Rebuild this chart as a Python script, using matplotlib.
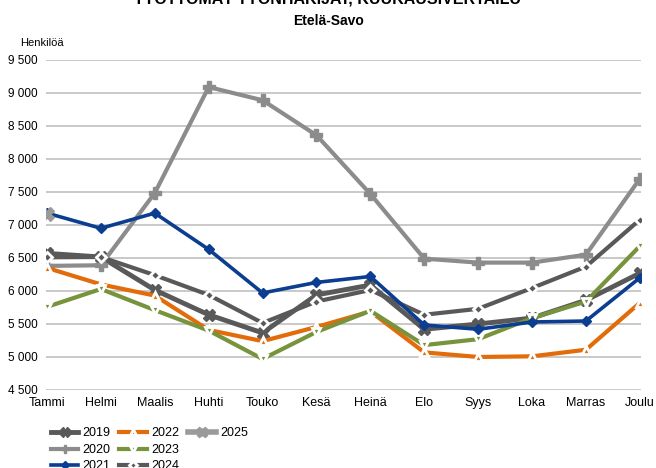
import matplotlib
matplotlib.use('Agg')
import matplotlib.pyplot as plt
from matplotlib.lines import Line2D
from matplotlib.ticker import FuncFormatter

plt.rcParams['font.family'] = ['Liberation Sans', 'DejaVu Sans']

###
# Data

months = ['Tammi', 'Helmi', 'Maalis', 'Huhti', 'Touko', 'Kesä', 'Heinä',
          'Elo', 'Syys', 'Loka', 'Marras', 'Joulu']

v2019 = [6570, 6515, 6015, 5640, 5365, 5940, 6090, 5420, 5500, 5590, 5860, 6270]
v2020 = [6380, 6390, 7485, 9090, 8890, 8360, 7470, 6490, 6430, 6430, 6550, 7700]
v2021 = [7180, 6950, 7180, 6630, 5970, 6130, 6220, 5485, 5420, 5530, 5545, 6200]
v2022 = [6350, 6100, 5930, 5410, 5240, 5455, 5690, 5070, 5000, 5010, 5110, 5820]
v2023 = [5760, 6030, 5710, 5400, 4970, 5380, 5700, 5180, 5270, 5590, 5840, 6680]
v2024 = [6510, 6515, 6240, 5940, 5515, 5840, 6015, 5640, 5730, 6045, 6370, 7080]
v2025 = [7170]

###
# Plot

fig = plt.figure(figsize=(6.56, 4.68), dpi=100)
ax = fig.add_axes([0.070, 0.1667, 0.907, 0.7051])

x = list(range(len(months)))

ax.plot(x, v2019, color='#595959', lw=3.5, marker='X', ms=9,
        mfc='#595959', mec='#595959', label='2019', zorder=3)
ax.plot(x, v2020, color='#8c8c8c', lw=3, marker='P', ms=8,
        mfc='#8c8c8c', mec='#8c8c8c', label='2020', zorder=3)
ax.plot(x, v2021, color='#0b3d91', lw=2.6, marker='D', ms=5.5,
        mfc='#0b3d91', mec='#0b3d91', label='2021', zorder=4)
ax.plot(x, v2022, color='#e36c0a', lw=3, marker='^', ms=6,
        mfc='#e36c0a', mec='white', mew=2, label='2022', zorder=3)
ax.plot(x, v2023, color='#77933c', lw=3, marker='v', ms=6,
        mfc='#77933c', mec='white', mew=2, label='2023', zorder=3)
ax.plot(x, v2024, color='#595959', lw=3, marker='D', ms=5,
        mfc='#595959', mec='white', mew=2, label='2024', zorder=3)
ax.plot(x[:len(v2025)], v2025, color='#9a9a9a', lw=4, marker='X', ms=10,
        mfc='#9a9a9a', mec='#9a9a9a', label='2025', zorder=5)

# axes
ax.set_ylim(4500, 9500)
ax.set_yticks(range(4500, 10000, 500))
ax.yaxis.set_major_formatter(FuncFormatter(lambda v, p: f'{int(v):,}'.replace(',', ' ')))
ax.set_xlim(-0.02, 11.02)
ax.set_xticks(x)
ax.set_xticklabels(months)
ax.tick_params(axis='both', length=0, labelsize=8.5, colors='black')
ax.tick_params(axis='x', labelsize=9, pad=5)
ax.tick_params(axis='y', pad=6)
ax.grid(True, axis='y', color='#c0c0c0', lw=1.2)
ax.set_axisbelow(True)
for s in ax.spines.values():
    s.set_visible(False)

# titles
fig.text(0.5, 1.003, 'TYÖTTÖMÄT TYÖNHAKIJAT, KUUKAUSIVERTAILU', ha='center', va='center',
         fontsize=11.5, fontweight='bold')
fig.text(0.5, 0.955, 'Etelä-Savo', ha='center', va='center', fontsize=10, fontweight='bold')
fig.text(0.030, 0.908, 'Henkilöä', ha='left', va='center', fontsize=8)

# legend, 3 + 3 + 1 layout
handles, labels = ax.get_legend_handles_labels()
blank = Line2D([], [], color='none')
handles = handles + [blank, blank]
labels = labels + ['', '']
fig.legend(handles, labels, ncol=3, loc='upper left', bbox_to_anchor=(0.068, 0.100),
           frameon=False, fontsize=9, handlelength=2.2, handletextpad=0.35,
           columnspacing=0.7, labelspacing=0.36, borderpad=0, markerscale=0.75)

fig.savefig('out.png', dpi=100)
